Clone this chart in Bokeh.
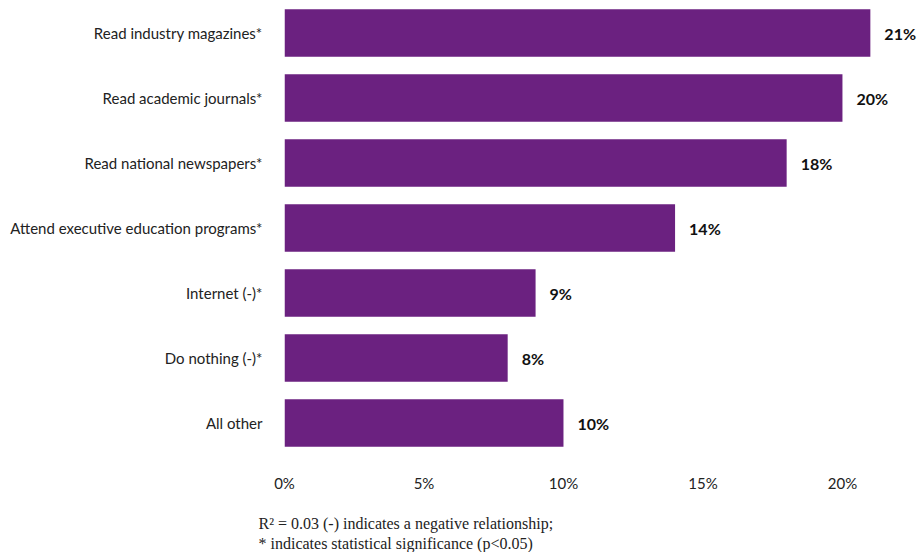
from bokeh.plotting import figure
from bokeh.layouts import column
from bokeh.models import ColumnDataSource, FactorRange, Range1d, FixedTicker
from bokeh.core.properties import value
from bokeh.embed import file_html
from bokeh.resources import INLINE

categories = ["Read industry magazines*", "Read academic journals*", "Read national newspapers*",
              "Attend executive education programs*", "Internet (-)*", "Do nothing (-)*", "All other"]
values = [21, 20, 18, 14, 9, 8, 10]
tick_values = [0, 5, 10, 15, 20]
tick_labels = {0: "0%", 5: "5%", 10: "10%", 15: "15%", 20: "20%"}
footnote = ["R\u00b2 = 0.03 (-) indicates a negative relationship;",
            "* indicates statistical significance (p<0.05)"]

FONT = "Lato"
PURPLE = "#6B2180"

src = ColumnDataSource(dict(cat=categories, val=values,
                            lbl=[f"{v}%" for v in values]))

p = figure(width=917, height=500, output_backend="svg", toolbar_location=None,
           y_range=FactorRange(factors=list(reversed(categories)), range_padding=0),
           x_range=Range1d(0, 22.69), frame_align=False,
           min_border_left=284, min_border_right=0, min_border_top=0, min_border_bottom=45)
p.outline_line_color = None
p.grid.grid_line_color = None
p.background_fill_color = "white"
p.border_fill_color = "white"

p.hbar(y="cat", right="val", left=0, height=0.73, source=src,
       fill_color=PURPLE, line_color=None)
p.text(x="val", y="cat", text="lbl", source=src, x_offset=14,
       text_font=value(FONT), text_font_style="bold", text_font_size="16px",
       text_baseline="middle", text_align="left", text_color="#111111")

p.xaxis.ticker = FixedTicker(ticks=tick_values)
p.xaxis.major_label_overrides = tick_labels
p.xaxis.axis_line_color = None
p.xaxis.major_tick_line_color = None
p.xaxis.minor_tick_line_color = None
p.xaxis.major_label_standoff = 12
p.xaxis.major_label_text_font = FONT
p.xaxis.major_label_text_font_size = "15px"
p.xaxis.major_label_text_color = "#222222"

p.yaxis.axis_line_color = None
p.yaxis.major_tick_line_color = None
p.yaxis.major_label_standoff = 16
p.yaxis.major_label_text_font = FONT
p.yaxis.major_label_text_font_size = "15px"
p.yaxis.major_label_text_color = "#222222"

# footnote strip below the chart (pixel-like coordinates: x 0..917, y 0..52 upward)
fn = figure(width=917, height=52, output_backend="svg", toolbar_location=None,
            x_range=Range1d(0, 917), y_range=Range1d(0, 52), frame_align=False,
            x_axis_type=None, y_axis_type=None,
            min_border_left=0, min_border_right=0, min_border_top=0, min_border_bottom=0)
fn.outline_line_color = None
fn.grid.grid_line_color = None
fn.border_fill_color = "white"
fn.background_fill_color = "white"
fn.text(x=[258, 258], y=[29, 9], text=footnote,
        text_font=value("Liberation Serif"), text_font_size="16px",
        text_baseline="middle", text_align="left", text_color="#222222")

layout = column(p, fn, spacing=0)
open("out.html", "w").write(file_html(layout, INLINE))
